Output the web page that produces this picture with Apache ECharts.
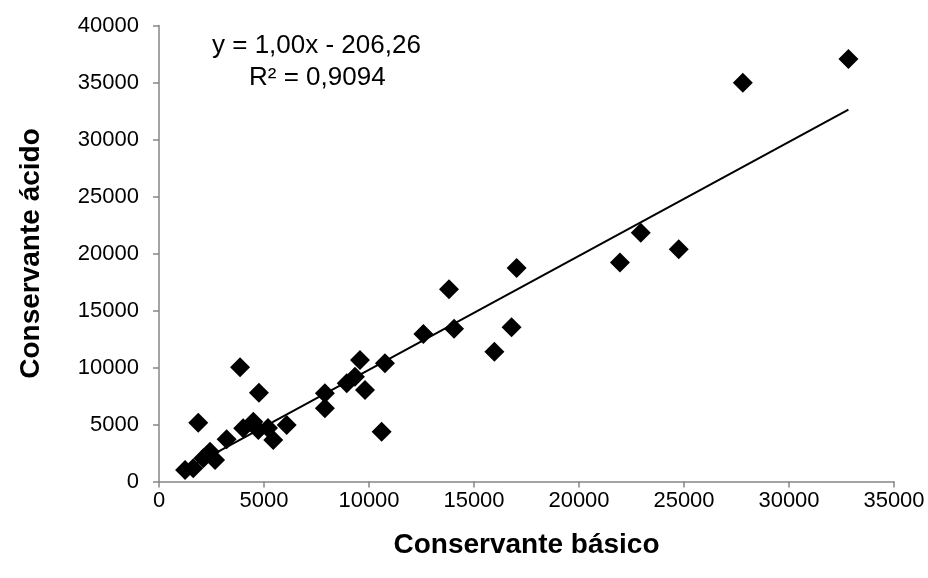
<!DOCTYPE html>
<html>
<head>
<meta charset="utf-8">
<script src="https://cdn.jsdelivr.net/npm/echarts@6/dist/echarts.min.js"></script>
<style>
html,body{margin:0;padding:0;background:#fff;}
#chart{width:928px;height:578px;}
</style>
</head>
<body>
<div id="chart"></div>
<script>
// Data
var xValues = [1240, 1630, 1870, 2110, 2430, 2670, 3220, 3860, 4010, 4490, 4760, 4730, 5190, 5440, 6080, 7900, 7900, 8940, 9330, 9570, 9810, 10760, 10600, 12590, 14050, 13810, 15970, 16790, 17030, 21950, 22940, 24750, 27800, 32830];
var yValues = [1010, 1160, 5160, 2040, 2610, 1890, 3700, 10020, 4670, 5250, 7790, 4520, 4690, 3640, 4960, 7740, 6420, 8610, 9190, 10660, 8030, 10370, 4370, 12940, 13400, 16860, 11390, 13530, 18730, 19210, 21830, 20370, 34980, 37060];
var xTicks = [0, 5000, 10000, 15000, 20000, 25000, 30000, 35000];
var yTicks = [0, 5000, 10000, 15000, 20000, 25000, 30000, 35000, 40000];
var trendSlope = 1.00;
var trendIntercept = -206.26;
var equationText = 'y = 1,00x - 206,26';
var r2Text = 'R² = 0,9094';
var xTitle = 'Conservante básico';
var yTitle = 'Conservante ácido';

var points = xValues.map(function (x, i) { return [x, yValues[i]]; });
var xMin = Math.min.apply(null, xValues);
var xMax = Math.max.apply(null, xValues);
var trend = [[xMin, trendSlope * xMin + trendIntercept], [xMax, trendSlope * xMax + trendIntercept]];

var FONT = '"Liberation Sans", Arial, sans-serif';
var axisColor = '#868686';
function plain(v) { return String(v); }

var chart = echarts.init(document.getElementById('chart'), null, {renderer: 'canvas'});
chart.setOption({
  animation: false,
  backgroundColor: '#ffffff',
  grid: {left: 159, right: 34, top: 25.5, bottom: 96.5, containLabel: false},
  xAxis: {
    type: 'value',
    min: xTicks[0], max: xTicks[xTicks.length - 1], interval: 5000,
    name: xTitle, nameLocation: 'middle', nameGap: 50,
    nameTextStyle: {fontFamily: FONT, fontSize: 28, fontWeight: 'bold', color: '#000'},
    axisLine: {show: true, onZero: false, lineStyle: {color: axisColor, width: 1.5}},
    axisTick: {show: true, length: 6, lineStyle: {color: axisColor, width: 1.5}},
    axisLabel: {fontFamily: FONT, fontSize: 22, color: '#000', margin: 8, formatter: plain},
    splitLine: {show: false}
  },
  yAxis: {
    type: 'value',
    min: yTicks[0], max: yTicks[yTicks.length - 1], interval: 5000,
    name: yTitle, nameLocation: 'middle', nameGap: 114, nameRotate: 90,
    nameTextStyle: {fontFamily: FONT, fontSize: 28, fontWeight: 'bold', color: '#000'},
    axisLine: {show: true, onZero: false, lineStyle: {color: axisColor, width: 1.5}},
    axisTick: {show: true, length: 6, lineStyle: {color: axisColor, width: 1.5}},
    axisLabel: {fontFamily: FONT, fontSize: 22, color: '#000', margin: 20, formatter: plain},
    splitLine: {show: false}
  },
  graphic: [
    {type: 'text', left: 212, top: 33, style: {text: equationText, font: '26px ' + FONT, fill: '#000'}},
    {type: 'text', left: 249, top: 65, style: {text: r2Text, font: '26px ' + FONT, fill: '#000'}}
  ],
  series: [
    {
      type: 'line',
      data: trend,
      showSymbol: false,
      symbol: 'none',
      lineStyle: {color: '#000', width: 2},
      z: 3,
      silent: true
    },
    {
      type: 'scatter',
      data: points,
      symbol: 'diamond',
      symbolSize: [20, 20],
      itemStyle: {color: '#000', opacity: 1},
      z: 2
    }
  ]
});
</script>
</body>
</html>
